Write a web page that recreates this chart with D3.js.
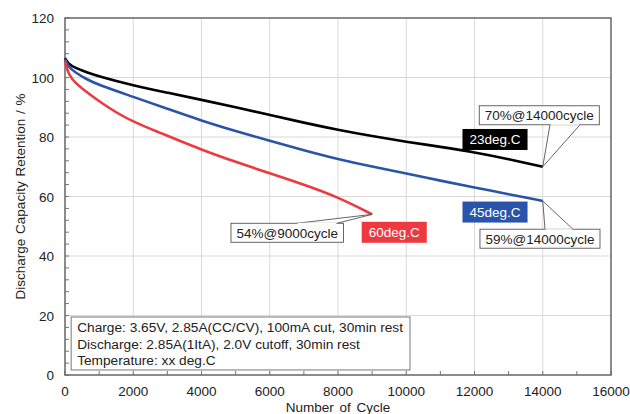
<!DOCTYPE html>
<html>
<head>
<meta charset="utf-8">
<script src="https://cdn.jsdelivr.net/npm/d3@7"></script>
<style>
  body { margin: 0; background: #fff; }
  svg { display: block; font-family: "Liberation Sans", Arial, sans-serif; }
</style>
</head>
<body>
<div id="chart"></div>
<script>
// cycle / retention readings for each temperature
const cycles23 = [0, 100, 300, 600, 1000, 2000, 3000, 4000, 5000, 6000, 7000, 8000, 9000, 10000, 11000, 12000, 13000, 14000];
const ret23 = [106.5, 104.6, 103.2, 101.9, 100.3, 97.3, 94.9, 92.5, 90.0, 87.4, 84.8, 82.4, 80.3, 78.4, 76.7, 74.9, 72.6, 70.0];

const cycles45 = [0, 100, 300, 600, 1000, 2000, 3000, 4000, 5000, 6000, 7000, 8000, 9000, 10000, 11000, 12000, 13000, 14000];
const ret45 = [106.2, 103.6, 101.7, 99.6, 97.4, 93.5, 89.5, 85.5, 82.0, 78.7, 75.5, 72.5, 70.0, 67.8, 65.3, 63.0, 60.8, 58.5];

const cycles60 = [0, 100, 300, 600, 1000, 1500, 2000, 3000, 4000, 5000, 6000, 7000, 8000, 9000];
const ret60 = [105.5, 101.0, 98.2, 95.4, 92.0, 88.2, 85.1, 80.4, 75.7, 71.6, 67.8, 64.0, 59.8, 54.0];

const seriesNames = ["23deg.C", "45deg.C", "60deg.C"];
const seriesColors = ["#000000", "#2a54a9", "#ec3a40"];

const xTicks = [0, 2000, 4000, 6000, 8000, 10000, 12000, 14000, 16000];
const yTicks = [0, 20, 40, 60, 80, 100, 120];

const conditionLines = [
  "Charge: 3.65V, 2.85A(CC/CV), 100mA cut, 30min rest",
  "Discharge:  2.85A(1ItA), 2.0V cutoff, 30min rest",
  "Temperature: xx deg.C"
];

// callouts: text, tip point, box top-left (data coords), pointer base (cycles)
const callouts = [
  { text: "70%@14000cycle", tip: [14000, 70.0], box: [12140, 90.5], base: [14212, 15091] },
  { text: "59%@14000cycle", tip: [14000, 58.5], box: [12160, 49.0], base: [14066, 14886] },
  { text: "54%@9000cycle", tip: [9000, 54.0], box: [4864, 51.0], base: [6798, 7971] }
];
// series tags, top-left in data coords
const tags = [
  { name: "23deg.C", at: [11648, 82.7] },
  { name: "45deg.C", at: [11648, 58.3] },
  { name: "60deg.C", at: [8695, 51.5] }
];

const width = 630, height = 414;
const margin = { top: 18, right: 19, bottom: 39, left: 65 };

const svg = d3.select("#chart").append("svg")
  .attr("width", width)
  .attr("height", height);

const x = d3.scaleLinear().domain([0, 16000]).range([margin.left, width - margin.right]);
const y = d3.scaleLinear().domain([0, 120]).range([height - margin.bottom, margin.top]);

// grid
svg.append("g")
  .selectAll("line")
  .data(xTicks.slice(1, -1))
  .enter().append("line")
  .attr("x1", d => x(d)).attr("x2", d => x(d))
  .attr("y1", y(0)).attr("y2", y(120))
  .attr("stroke", "#d9d9d9").attr("stroke-width", 1);

svg.append("g")
  .selectAll("line")
  .data(yTicks.slice(1, -1))
  .enter().append("line")
  .attr("x1", x(0)).attr("x2", x(16000))
  .attr("y1", d => y(d)).attr("y2", d => y(d))
  .attr("stroke", "#d9d9d9").attr("stroke-width", 1);

// minor ticks, inward
svg.append("g")
  .selectAll("line")
  .data(d3.range(0, 16001, 1000))
  .enter().append("line")
  .attr("x1", d => x(d)).attr("x2", d => x(d))
  .attr("y1", y(0)).attr("y2", y(0) - 4)
  .attr("stroke", "#777");

svg.append("g")
  .selectAll("line")
  .data(d3.range(0, 121, 4))
  .enter().append("line")
  .attr("x1", x(0)).attr("x2", x(0) + 4)
  .attr("y1", d => y(d)).attr("y2", d => y(d))
  .attr("stroke", "#777");

// frame
svg.append("rect")
  .attr("x", x(0)).attr("y", y(120))
  .attr("width", x(16000) - x(0)).attr("height", y(0) - y(120))
  .attr("fill", "none").attr("stroke", "#666").attr("stroke-width", 1.5);

// tick labels
svg.append("g")
  .selectAll("text")
  .data(xTicks)
  .enter().append("text")
  .attr("x", d => x(d)).attr("y", y(0) + 20.5)
  .attr("text-anchor", "middle")
  .attr("font-size", 13.5).attr("fill", "#222")
  .text(d => d);

svg.append("g")
  .selectAll("text")
  .data(yTicks)
  .enter().append("text")
  .attr("x", x(0) - 11).attr("y", d => y(d) + 5)
  .attr("text-anchor", "end")
  .attr("font-size", 13.5).attr("fill", "#222")
  .text(d => d);

svg.append("text")
  .attr("x", (x(0) + x(16000)) / 2).attr("y", height - 2.5)
  .attr("text-anchor", "middle").attr("font-size", 13.5).attr("fill", "#222")
  .attr("word-spacing", 2)
  .text("Number of Cycle");

svg.append("text")
  .attr("transform", `translate(25, ${(y(0) + y(120)) / 2}) rotate(-90)`)
  .attr("text-anchor", "middle").attr("font-size", 13.5).attr("fill", "#222")
  .attr("word-spacing", 1)
  .text("Discharge Capacity Retention / %");

// curves
const line = d3.line()
  .x(d => x(d[0]))
  .y(d => y(d[1]))
  .curve(d3.curveBasis);

const allSeries = [
  d3.zip(cycles23, ret23),
  d3.zip(cycles45, ret45),
  d3.zip(cycles60, ret60)
];

svg.append("g")
  .selectAll("path")
  .data(allSeries)
  .enter().append("path")
  .attr("d", line)
  .attr("fill", "none")
  .attr("stroke", (d, i) => seriesColors[i])
  .attr("stroke-width", 2.6);

// condition box
const cond = svg.append("g");
cond.append("rect")
  .attr("x", x(180)).attr("y", y(19.5))
  .attr("width", x(10110) - x(180)).attr("height", y(1.7) - y(19.5))
  .attr("fill", "#fff").attr("stroke", "#777").attr("stroke-width", 1);
cond.selectAll("text")
  .data(conditionLines)
  .enter().append("text")
  .attr("x", x(180) + 6)
  .attr("y", (d, i) => y(19.5) + 15 + i * 16.6)
  .attr("font-size", 13.7).attr("fill", "#222")
  .text(d => d);

// callouts
callouts.forEach(c => {
  const g = svg.append("g");
  const t = g.append("text")
    .attr("font-size", 13.5).attr("fill", "#222")
    .text(c.text);
  const w = t.node().getComputedTextLength() + 11;
  const h = 19;
  const bx = x(c.box[0]), by = y(c.box[1]);
  const tx = x(c.tip[0]), ty = y(c.tip[1]);
  const edge = ty > by ? by + h : by;
  g.insert("path", "text")
    .attr("d", `M${x(c.base[0])},${edge} L${tx},${ty} L${x(c.base[1])},${edge}`)
    .attr("fill", "#fff").attr("stroke", "#555").attr("stroke-width", 0.9);
  g.insert("rect", "text")
    .attr("x", bx).attr("y", by).attr("width", w).attr("height", h)
    .attr("fill", "#fff").attr("stroke", "#555").attr("stroke-width", 0.9);
  // cover the box edge where the pointer joins
  g.insert("line", "text")
    .attr("x1", x(c.base[0]) + 0.6).attr("x2", x(c.base[1]) - 0.6)
    .attr("y1", edge).attr("y2", edge)
    .attr("stroke", "#fff").attr("stroke-width", 1.2);
  t.attr("x", bx + 5.5).attr("y", by + 14.5);
});

// series tags
tags.forEach(tg => {
  const i = seriesNames.indexOf(tg.name);
  const g = svg.append("g");
  const t = g.append("text")
    .attr("font-size", 13.5).attr("fill", "#fff")
    .text(tg.name);
  const w = t.node().getComputedTextLength() + 14;
  const bx = x(tg.at[0]), by = y(tg.at[1]);
  g.insert("rect", "text")
    .attr("x", bx).attr("y", by).attr("width", w).attr("height", 21)
    .attr("fill", seriesColors[i]);
  t.attr("x", bx + 7).attr("y", by + 15.5);
});
</script>
</body>
</html>
